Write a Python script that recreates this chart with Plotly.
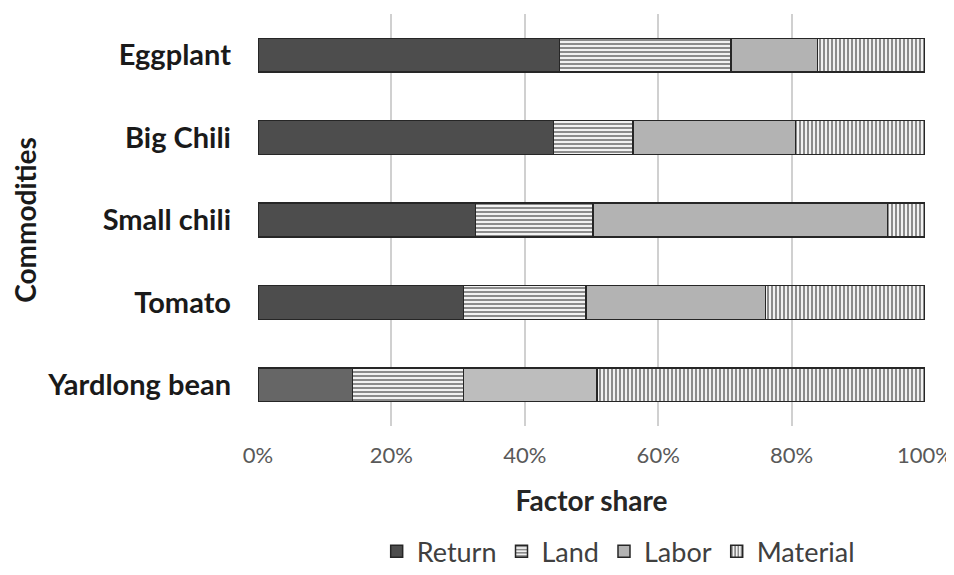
import plotly.graph_objects as go

commodities = ["Eggplant", "Big Chili", "Small chili", "Tomato", "Yardlong bean"]
return_share = [45.2, 44.3, 32.6, 30.8, 14.2]
land_share = [25.7, 11.9, 17.6, 18.4, 16.6]
labor_share = [13.0, 24.4, 44.2, 26.9, 20.0]
material_share = [16.1, 19.4, 5.6, 23.9, 49.2]
tick_vals = [0, 20, 40, 60, 80, 100]
tick_text = ["0%", "20%", "40%", "60%", "80%", "100%"]

FONT = "Lato"
line = dict(color="#262626", width=1.5)

fig = go.Figure()
fig.add_trace(go.Bar(
    name="Return", y=commodities, x=return_share, orientation="h",
    marker=dict(color=["#4d4d4d", "#4d4d4d", "#4d4d4d", "#4d4d4d", "#666666"], line=line),
))
fig.add_trace(go.Bar(
    name="Land", y=commodities, x=land_share, orientation="h",
    marker=dict(color="#ffffff", line=line,
                pattern=dict(shape="-", fgcolor="#262626", bgcolor="#f2f2f2",
                             size=4, solidity=0.5, fillmode="overlay")),
))
fig.add_trace(go.Bar(
    name="Labor", y=commodities, x=labor_share, orientation="h",
    marker=dict(color=["#b3b3b3", "#b3b3b3", "#b3b3b3", "#b3b3b3", "#bdbdbd"], line=line),
))
fig.add_trace(go.Bar(
    name="Material", y=commodities, x=material_share, orientation="h",
    marker=dict(color="#ffffff", line=line,
                pattern=dict(shape="|", fgcolor="#262626", bgcolor="#f2f2f2",
                             size=4, solidity=0.5, fillmode="overlay")),
))

fig.update_layout(
    barmode="stack",
    bargap=0.59,
    width=946, height=559,
    margin=dict(l=250, r=29, t=6, b=141, autoexpand=False),
    paper_bgcolor="white", plot_bgcolor="white",
    font=dict(family=FONT, color="#404040"),
    xaxis=dict(
        range=[0, 100], tickvals=tick_vals, ticktext=tick_text,
        showgrid=True, gridcolor="#d0d0d0", gridwidth=1.5,
        zeroline=False, showline=False,
        tickfont=dict(size=22, color="#595959", family=FONT),
        ticks="", ticklen=0, ticklabelstandoff=14, ticklabeloverflow="allow",
        title=dict(text="<b>Factor share</b>", font=dict(size=28, color="#262626", family=FONT), standoff=24),
    ),
    yaxis=dict(
        autorange="reversed", showgrid=False, zeroline=False, showline=False,
        tickfont=dict(size=29, color="#1a1a1a", family=FONT),
        ticklabelstandoff=26,
        title=dict(text="<b>Commodities</b>", font=dict(size=28, color="#1a1a1a", family=FONT), standoff=6),
    ),
    legend=dict(
        orientation="h", x=0.54, xanchor="center", y=-0.305, yanchor="middle",
        font=dict(size=27, color="#404040", family=FONT),
        traceorder="normal", itemwidth=30,
    ),
)
fig.update_yaxes(tickprefix="<b>", ticksuffix="</b>")

fig.write_html("out.html")
